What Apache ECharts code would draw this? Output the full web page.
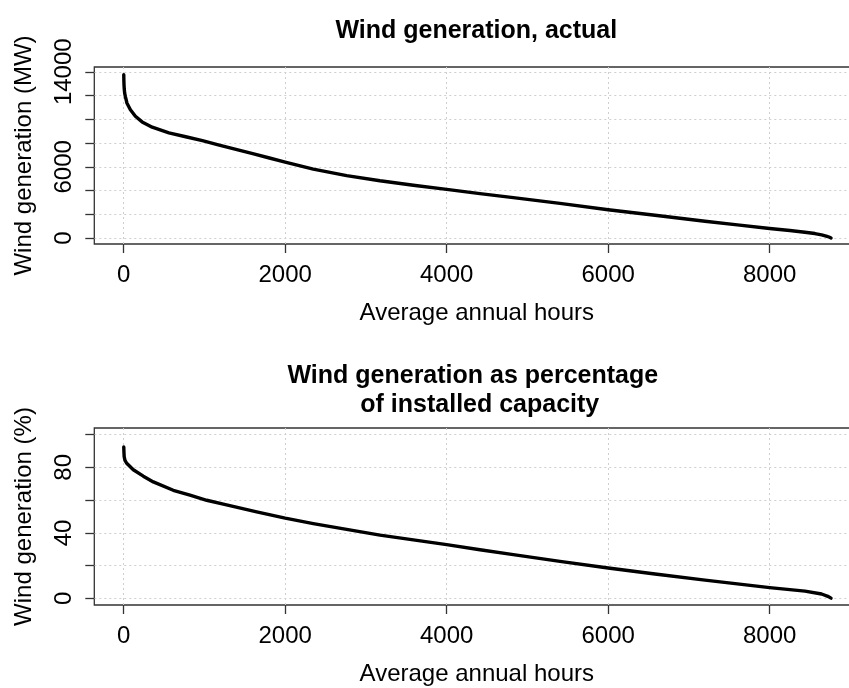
<!DOCTYPE html>
<html>
<head>
<meta charset="utf-8">
<script src="https://cdn.jsdelivr.net/npm/echarts@6/dist/echarts.min.js"></script>
<style>
  html, body { margin: 0; padding: 0; background: #fff; }
  #chart { width: 849px; height: 688px; }
</style>
</head>
<body>
<div id="chart"></div>
<script>
// Duration curve of wind output: hours of the year sorted by generation (descending)
const hoursMW = [1, 2, 4, 7, 12, 21, 41, 83, 145, 228, 353, 560, 768, 975, 1183, 1390, 1598, 1805, 2000,
  2348, 2761, 3174, 3587, 4000, 4412, 4825, 5403, 6000, 6580, 7199, 7600, 8000, 8250, 8437, 8560, 8643, 8700, 8735, 8760];
const mwValues = [13750, 13300, 12900, 12550, 12200, 11900, 11350, 10800, 10250, 9780, 9330, 8860, 8530, 8200, 7830, 7470, 7110, 6740, 6400,
  5805, 5255, 4820, 4450, 4100, 3740, 3400, 2920, 2380, 1915, 1420, 1110, 810, 640, 493, 380, 268, 170, 90, 10];

const hoursPct = [1, 3, 6, 16, 37, 57, 119, 243, 367, 614, 821, 1028, 1234, 1647, 2000, 2348, 2761, 3174, 3587,
  4000, 4412, 4825, 5403, 6000, 6580, 7199, 8000, 8437, 8643, 8720, 8760];
const pctValues = [92.4, 89.5, 86.5, 84.3, 82.5, 81.3, 78.5, 74.6, 71.1, 66.0, 63.0, 59.9, 57.5, 52.8, 49.0, 45.7, 42.1, 38.6, 35.7,
  32.8, 29.7, 26.7, 22.6, 18.6, 14.9, 11.2, 6.6, 4.5, 2.7, 1.3, 0.2];

// Axis ticks and the subset of ticks that carry a label
const xTicks = [0, 2000, 4000, 6000, 8000];
const mwTicks = [0, 2000, 4000, 6000, 8000, 10000, 12000, 14000];
const mwLabels = [0, 6000, 14000];
const pctTicks = [0, 20, 40, 60, 80, 100];
const pctLabels = [0, 40, 80];

const FONT = "'Liberation Sans', Arial, Helvetica, sans-serif";
const INK = '#000';
const FRAME = '#333';

function pairs(xs, ys) { return xs.map((x, i) => [x, ys[i]]); }

function gridBox(top) {
  return {
    left: 94.3, top: top, width: 765, height: 177,
    show: true, borderColor: FRAME, borderWidth: 1.3, backgroundColor: 'transparent',
    containLabel: false, outerBoundsMode: 'none'
  };
}

function xAxisFor(gridIndex) {
  return {
    type: 'value', gridIndex: gridIndex, min: -364, max: 9110,
    name: 'Average annual hours', nameLocation: 'middle', nameGap: 57,
    nameTextStyle: { fontSize: 24, color: INK, fontFamily: FONT },
    axisLine: { show: false, onZero: false },
    axisTick: { show: true, inside: false, customValues: xTicks, length: 9, lineStyle: { color: FRAME, width: 1.3 } },
    axisLabel: { customValues: xTicks, margin: 19, fontSize: 24, color: INK, fontFamily: FONT,
      formatter: v => String(v) },
    splitLine: { show: true, lineStyle: { color: '#cfcfcf', width: 1, type: [2, 3] } }
  };
}

function yAxisFor(gridIndex, min, max, ticks, labels, title) {
  return {
    type: 'value', gridIndex: gridIndex, min: min, max: max,
    name: title, nameLocation: 'middle', nameGap: 58, nameRotate: 90,
    nameTextStyle: { fontSize: 24, color: INK, fontFamily: FONT },
    axisLine: { show: false, onZero: false },
    axisTick: { show: true, inside: false, customValues: ticks, length: 9, lineStyle: { color: FRAME, width: 1.3 } },
    axisLabel: { customValues: labels, rotate: 90, margin: 18, fontSize: 24, color: INK, fontFamily: FONT,
      formatter: v => String(v) },
    splitLine: { show: true, lineStyle: { color: '#cfcfcf', width: 1, type: [2, 3] } }
  };
}

function curve(xi, yi, data) {
  return {
    type: 'line', xAxisIndex: xi, yAxisIndex: yi, data: data,
    showSymbol: false, symbol: 'none', smooth: false, silent: true,
    lineStyle: { color: INK, width: 3.4, join: 'round', cap: 'round' }
  };
}

const chart = echarts.init(document.getElementById('chart'), null, { renderer: 'canvas' });
chart.setOption({
  animation: false,
  backgroundColor: '#fff',
  textStyle: { fontFamily: FONT },
  title: [
    { text: 'Wind generation, actual', left: 471.3, top: 14, textAlign: 'center',
      textStyle: { fontSize: 25, fontWeight: 'bold', color: INK, fontFamily: FONT } },
    { text: 'Wind generation as percentage \n of installed capacity', left: 471.3, top: 357, textAlign: 'center',
      textStyle: { fontSize: 25, fontWeight: 'bold', color: INK, fontFamily: FONT, lineHeight: 28.5 } }
  ],
  grid: [gridBox(67), gridBox(428)],
  xAxis: [xAxisFor(0), xAxisFor(1)],
  yAxis: [
    yAxisFor(0, -500, 14400, mwTicks, mwLabels, 'Wind generation (MW)'),
    yAxisFor(1, -4, 104, pctTicks, pctLabels, 'Wind generation (%)')
  ],
  series: [
    curve(0, 0, pairs(hoursMW, mwValues)),
    curve(1, 1, pairs(hoursPct, pctValues))
  ]
});
</script>
</body>
</html>
